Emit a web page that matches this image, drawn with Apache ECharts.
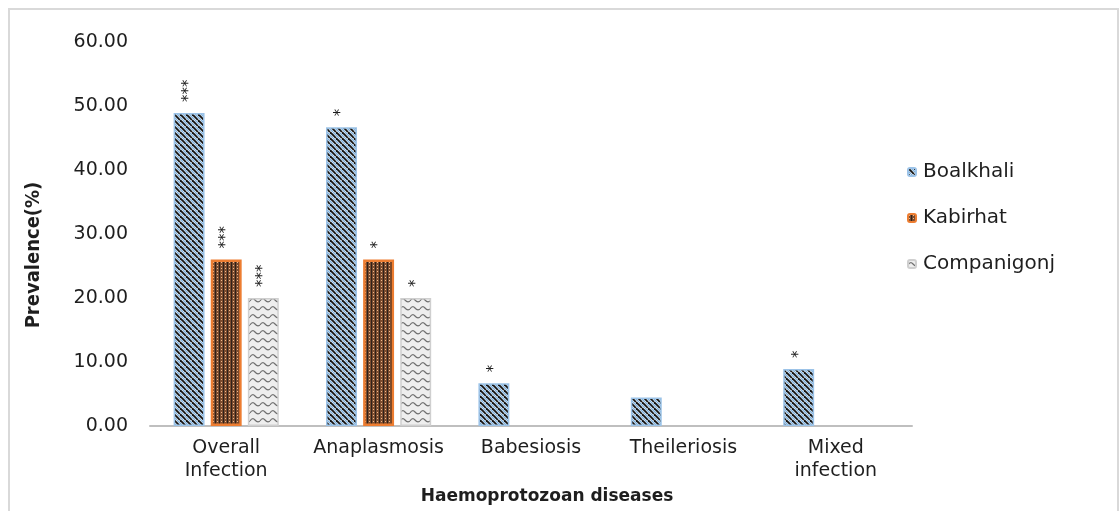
<!DOCTYPE html>
<html>
<head>
<meta charset="utf-8">
<script src="https://cdn.jsdelivr.net/npm/echarts@6/dist/echarts.min.js"></script>
<style>
html,body{margin:0;padding:0;background:#fff;}
#chart{width:1120px;height:511px;}
</style>
</head>
<body>
<div id="chart"></div>
<script>
const categories = ['Overall\nInfection', 'Anaplasmosis', 'Babesiosis', 'Theileriosis', 'Mixed\ninfection'];
const seriesNames = ['Boalkhali', 'Kabirhat', 'Companigonj'];
const boalkhali = [48.89, 46.67, 6.67, 4.44, 8.89];
const kabirhat = [26.00, 26.00, null, null, null];
const companigonj = [20.00, 20.00, null, null, null];
const sigBoalkhali = ['***', '*', '*', '', '*'];
const sigKabirhat = ['***', '*', '', '', ''];
const sigCompanigonj = ['***', '*', '', '', ''];
const yTicks = { min: 0, max: 60, interval: 10 };

function makeTile(w, h, draw) {
  const c = document.createElement('canvas');
  c.width = w; c.height = h;
  const ctx = c.getContext('2d');
  draw(ctx, w, h);
  return c;
}
const stripeTile = makeTile(6, 6, (ctx, w, h) => {
  ctx.fillStyle = '#ffffff'; ctx.fillRect(0, 0, w, h);
  for (let k = -2; k <= 2; k++) {
    ctx.strokeStyle = '#7fb2e0'; ctx.lineWidth = 1.5;
    ctx.beginPath(); ctx.moveTo(k * 6 + 3, 0); ctx.lineTo(k * 6 + 9, 6); ctx.stroke();
    ctx.strokeStyle = '#141414'; ctx.lineWidth = 1.9;
    ctx.beginPath(); ctx.moveTo(k * 6, 0); ctx.lineTo(k * 6 + 6, 6); ctx.stroke();
  }
});
const brickTile = makeTile(4, 3, (ctx, w, h) => {
  ctx.fillStyle = '#7c4c2e'; ctx.fillRect(0, 0, w, h);
  ctx.fillStyle = '#2e211a'; ctx.fillRect(3, 0, 1, 3);
  ctx.fillStyle = '#efbb90'; ctx.fillRect(1, 1, 1, 1);
});
const waveTile = makeTile(10, 8, (ctx, w, h) => {
  ctx.fillStyle = '#eeeeee'; ctx.fillRect(0, 0, w, h);
  ctx.strokeStyle = '#707070'; ctx.lineWidth = 1.2;
  ctx.beginPath(); ctx.moveTo(0, 5);
  ctx.quadraticCurveTo(2.5, 1, 5, 4);
  ctx.quadraticCurveTo(7.5, 7, 10, 5);
  ctx.stroke();
});

const FONT = 'DejaVu Sans';
const textColor = '#1e1e1e';

function mkSeries(name, data, sig, tile, border, bw) {
  return {
    name: name,
    type: 'bar',
    data: data,
    barGap: '20%',
    barCategoryGap: '31%',
    itemStyle: { color: { image: tile, repeat: 'repeat' }, borderColor: border, borderWidth: bw },
    label: {
      show: true,
      position: 'top',
      distance: 11,
      rotate: 90,
      align: 'left',
      verticalAlign: 'middle',
      fontFamily: FONT,
      fontSize: 15,
      color: textColor,
      formatter: p => sig[p.dataIndex] || ''
    },
    emphasis: { disabled: true }
  };
}

const chart = echarts.init(document.getElementById('chart'), null, { renderer: 'canvas' });
chart.setOption({
  animation: false,
  backgroundColor: '#fff',
  grid: { left: 150, right: 208, top: 42, bottom: 85, containLabel: false },
  legend: {
    orient: 'vertical',
    left: 902,
    top: 157,
    itemWidth: 8,
    itemHeight: 8,
    itemGap: 26,
    data: seriesNames,
    textStyle: { fontFamily: FONT, fontSize: 20, color: textColor, padding: [0, 0, 0, 2] }
  },
  xAxis: {
    type: 'category',
    data: categories,
    axisLine: { lineStyle: { color: '#bfbfbf', width: 2 } },
    axisTick: { show: false },
    axisLabel: { fontFamily: FONT, fontSize: 19, color: textColor, margin: 11, lineHeight: 23, interval: 0 }
  },
  yAxis: {
    type: 'value',
    min: yTicks.min,
    max: yTicks.max,
    interval: yTicks.interval,
    splitLine: { show: false },
    axisLine: { show: false },
    axisTick: { show: false },
    axisLabel: { fontFamily: FONT, fontSize: 19, color: textColor, margin: 22, formatter: v => v.toFixed(2) }
  },
  graphic: [
    { type: 'rect', shape: { x: 9, y: 9, width: 1109, height: 520 }, style: { fill: 'none', stroke: '#d9d9d9', lineWidth: 2 }, silent: true },
    { type: 'text', x: 34, y: 255, rotation: Math.PI / 2, style: { text: 'Prevalence(%)', fontFamily: 'Liberation Sans Narrow, DejaVu Sans Condensed, DejaVu Sans', fontWeight: 'bold', fontSize: 20, fill: textColor, align: 'center', verticalAlign: 'middle' } },
    { type: 'text', x: 547, y: 497, style: { text: 'Haemoprotozoan diseases', fontFamily: FONT, fontWeight: 'bold', fontSize: 17, fill: textColor, align: 'center', verticalAlign: 'middle' } }
  ],
  series: [
    mkSeries(seriesNames[0], boalkhali, sigBoalkhali, stripeTile, '#9cc3e8', 1.5),
    mkSeries(seriesNames[1], kabirhat, sigKabirhat, brickTile, '#ed7d31', 2.5),
    mkSeries(seriesNames[2], companigonj, sigCompanigonj, waveTile, '#cfcfcf', 1.5)
  ]
});
</script>
</body>
</html>
